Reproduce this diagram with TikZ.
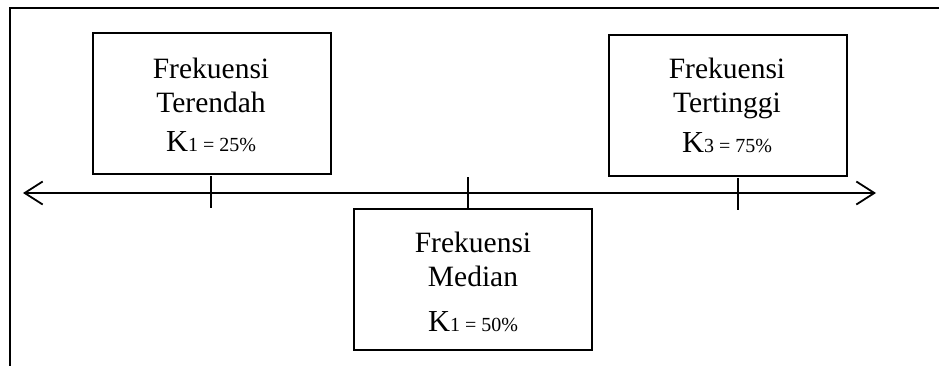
\documentclass[tikz,border=0pt]{standalone}
\usepackage{fontspec}
\setmainfont{Liberation Serif}
\usetikzlibrary{arrows.meta}
\tikzset{
  box/.style={draw, line width=1.8pt, minimum width=238pt, minimum height=141pt, inner sep=0pt, anchor=north west},
  txt/.style={anchor=base, inner sep=0pt, font=\fontsize{29.5}{32}\selectfont},
  ktxt/.style={anchor=base, inner sep=0pt},
  axis/.style={line width=1.8pt, {Straight Barb[length=18pt,width=23pt,line width=1.8pt]}-{Straight Barb[length=18pt,width=23pt,line width=1.8pt]}},
  tick/.style={line width=1.6pt},
  frame/.style={line width=2.4pt}
}
\newcommand{\kval}[2]{{\fontsize{30.5}{32}\selectfont K}{\fontsize{20}{22}\selectfont #1 = #2\%}}
\begin{document}
\begin{tikzpicture}[x=1pt,y=-1pt]
\useasboundingbox (0,0) rectangle (939,365);
% frame
\coordinate (fb) at (10,366);
\coordinate (fc) at (10,8);
\coordinate (fr) at (940,8);
\draw[frame] (fb) -- (fc) -- (fr);
% boxes
\node[box] (lo) at (92,32) {};
\node[box] (hi) at (608,34) {};
\node[box] (md) at (353,208) {};
% texts
\node[txt] (lo1) at (211,78.5) {Frekuensi};
\node[txt] (lo2) at (211,112) {Terendah};
\node[ktxt] (lo3) at (211,151) {\kval{1}{25}};
\node[txt] (hi1) at (727,78) {Frekuensi};
\node[txt] (hi2) at (727,112) {Tertinggi};
\node[ktxt] (hi3) at (727,152) {\kval{3}{75}};
\node[txt] (md1) at (473,252) {Frekuensi};
\node[txt] (md2) at (473,286) {Median};
\node[ktxt] (md3) at (473,331) {\kval{1}{50}};
% axis
\coordinate (al) at (23,193);
\coordinate (ar) at (876,193);
\draw[axis] (al) -- (ar);
% ticks
\coordinate (t1a) at (211,176);
\coordinate (t1b) at (211,208);
\coordinate (t3a) at (738,178);
\coordinate (t3b) at (738,210);
\coordinate (t2a) at (468,177);
\draw[tick] (t1a) -- (t1b);
\draw[tick] (t3a) -- (t3b);
\draw[tick] (t2a) -- (t2a |- md.north);
\end{tikzpicture}
\end{document}
